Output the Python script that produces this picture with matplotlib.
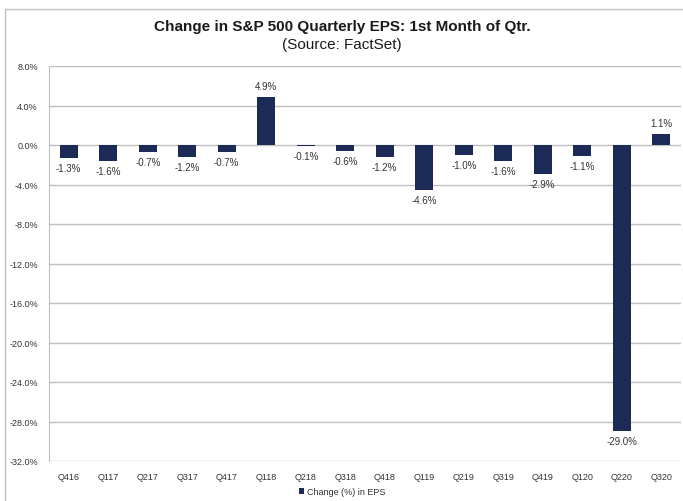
import matplotlib
matplotlib.use("Agg")
import matplotlib.pyplot as plt
from matplotlib.patches import Rectangle

categories = ["Q416", "Q117", "Q217", "Q317", "Q417", "Q118", "Q218", "Q318",
              "Q418", "Q119", "Q219", "Q319", "Q419", "Q120", "Q220", "Q320"]
values = [-1.3, -1.6, -0.7, -1.2, -0.7, 4.9, -0.1, -0.6,
          -1.2, -4.6, -1.0, -1.6, -2.9, -1.1, -29.0, 1.1]
yticks = [8, 4, 0, -4, -8, -12, -16, -20, -24, -28, -32]

plt.rcParams['font.family'] = ['Liberation Sans', 'DejaVu Sans']

fig = plt.figure(figsize=(6.83, 5.02), dpi=100)
ax = fig.add_axes([49/683, 1-462/502, 632/683, (462-67)/502])

bar_color = "#1C2A56"
x = list(range(len(categories)))
ax.bar(x, values, width=0.45, color=bar_color, zorder=3, label="Change (%) in EPS")

for xi, v in zip(x, values):
    if v >= 0:
        ax.text(xi, v + 0.6, f"{v:.1f}%", ha="center", va="bottom", fontsize=7, color="#333333")
    else:
        ax.text(xi, v - 0.5, f"{v:.1f}%", ha="center", va="top", fontsize=7, color="#333333")

ax.set_xlim(-0.5, len(categories) - 0.5)
ax.set_ylim(-32, 8)
ax.set_yticks(yticks)
ax.set_yticklabels([f"{t:.1f}%" for t in yticks], fontsize=6.5, color="#333333")
ax.set_xticks(x)
ax.set_xticklabels(categories, fontsize=6.5, color="#333333")
ax.tick_params(axis="both", length=0, pad=8)
ax.yaxis.grid(True, color="#BFBFBF", linewidth=1, zorder=0)
for s in ["top", "right", "bottom"]:
    ax.spines[s].set_visible(False)
ax.spines["left"].set_color("#BFBFBF")

fig.text(342/683, 1-27/502, "Change in S&P 500 Quarterly EPS: 1st Month of Qtr.",
         ha="center", va="center", fontsize=11, fontweight="bold", color="#1a1a1a")
fig.text(342/683, 1-45/502, "(Source: FactSet)", ha="center", va="center",
         fontsize=11, color="#1a1a1a")

leg = fig.legend(loc="center", bbox_to_anchor=(342/683, 1-493/502), frameon=False,
                 fontsize=6.5, handlelength=0.6, handleheight=0.6, handletextpad=0.3)
for t in leg.get_texts():
    t.set_color("#333333")

fig.patches.append(Rectangle((5/683, -0.1), 1.0, 1-10/502+0.1, transform=fig.transFigure,
                             fill=False, edgecolor="#BFBFBF", linewidth=1))

fig.savefig("out.png", dpi=100)
